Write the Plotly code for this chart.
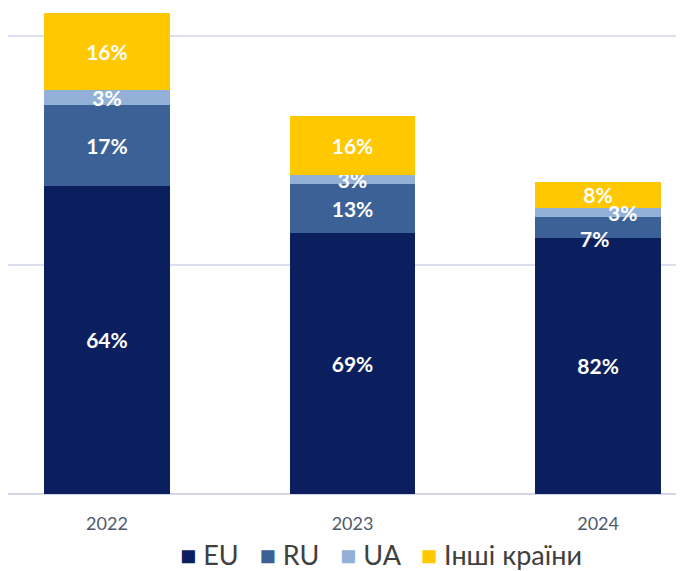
import plotly.graph_objects as go

years = ["2022", "2023", "2024"]
series_names = ["EU", "RU", "UA", "Інші країни"]
eu = [1345, 1140, 1118]
ru = [354, 214, 92]
ua = [66, 39, 39]
other = [336, 258, 114]
eu_lbl = ["64%", "69%", "82%"]
ru_lbl = ["17%", "13%", "7%"]
ua_lbl = ["3%", "3%", "3%"]
other_lbl = ["16%", "16%", "8%"]

colors = ["#0b1f5e", "#3b6197", "#93b1d8", "#ffc800"]
values = [eu, ru, ua, other]
labels = [eu_lbl, ru_lbl, ua_lbl, other_lbl]
# labels moved by hand in the crowded 2024 bar: (series, year index) -> (xshift, yshift) px
nudged = {(1, 2): (-4, -11), (2, 2): (24, 0)}

FONT = "Lato, Open Sans, sans-serif"
LBL_FONT = dict(family=FONT, size=21, color="white", weight=700)

fig = go.Figure()
for si, (name, vals, lbls, col) in enumerate(zip(series_names, values, labels, colors)):
    txt = ["" if (si, i) in nudged else t for i, t in enumerate(lbls)]
    fig.add_trace(go.Bar(x=years, y=vals, name=name, marker=dict(color=col, line=dict(width=0)),
                         width=0.513, hoverinfo="skip", text=txt, textposition="inside",
                         insidetextanchor="middle", textangle=0, insidetextfont=LBL_FONT,
                         cliponaxis=False))

for (si, i), (dx, dy) in nudged.items():
    base = sum(values[k][i] for k in range(si))
    # x given as the category index of years[i]
    fig.add_annotation(x=i, y=base + values[si][i] / 2, text="<b>" + labels[si][i] + "</b>",
                       showarrow=False, font=dict(family=FONT, size=21, color="white"),
                       xshift=dx, yshift=dy)

# legend as one line of text with coloured squares
NB = "\u00a0"
parts = [f'<span style="color:{col}">■</span>{NB}{name}' for name, col in zip(series_names, colors)]
fig.add_annotation(xref="paper", yref="paper", x=0.552, y=-0.1255, xanchor="center",
                   yanchor="middle", showarrow=False, text=(NB * 3).join(parts),
                   font=dict(family=FONT, size=27, color="#404040"))

fig.update_layout(
    width=684, height=571,
    barmode="stack",
    plot_bgcolor="white", paper_bgcolor="white",
    margin=dict(l=0, r=8, t=0, b=85),
    showlegend=False,
    uniformtext=dict(minsize=21, mode="show"),
    xaxis=dict(type="category", range=[-0.403, 2.35], showgrid=False, showline=False,
               ticks="", ticklabelstandoff=17,
               tickfont=dict(family=FONT, size=18, color="#4f5a6b")),
    yaxis=dict(range=[0, 2122], dtick=1000, showticklabels=False, showgrid=True,
               gridcolor="#dcdff0", gridwidth=1.5, zeroline=True, zerolinecolor="#d3d6e4",
               zerolinewidth=1.5, showline=False),
)

fig.write_html("out.html")
